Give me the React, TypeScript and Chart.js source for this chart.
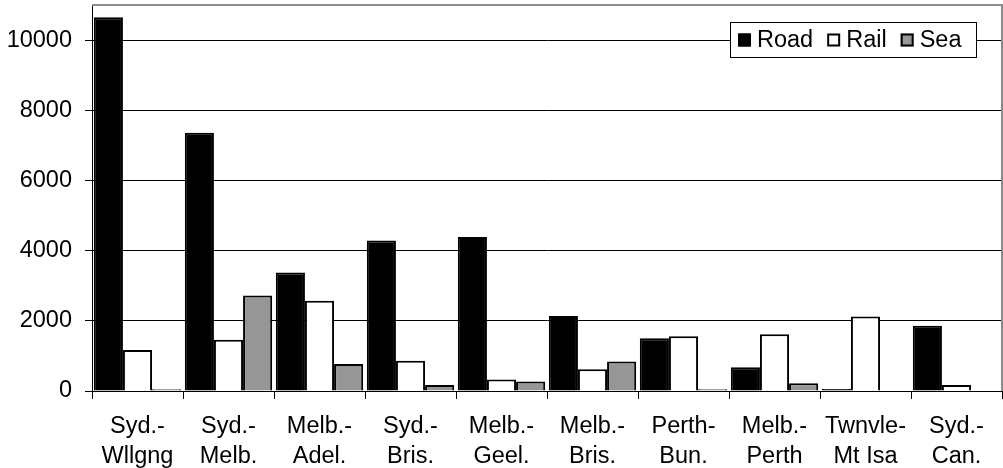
import React, { useEffect, useRef } from "react";
import { Chart, registerables } from "chart.js";

Chart.register(...registerables);

// Freight by corridor and mode
const corridors: string[][] = [
  ["Syd.-", "Wllgng"],
  ["Syd.-", "Melb."],
  ["Melb.-", "Adel."],
  ["Syd.-", "Bris."],
  ["Melb.-", "Geel."],
  ["Melb.-", "Bris."],
  ["Perth-", "Bun."],
  ["Melb.-", "Perth"],
  ["Twnvle-", "Mt Isa"],
  ["Syd.-", "Can."],
];

const road: number[] = [10650, 7360, 3380, 4290, 4390, 2140, 1500, 680, 60, 1860];
const rail: number[] = [1170, 1460, 2570, 860, 330, 620, 1560, 1620, 2120, 170];
const sea: number[] = [50, 2720, 770, 170, 270, 840, 50, 220, 0, 0];

const yTicks: number[] = [0, 2000, 4000, 6000, 8000, 10000];

const FONT = '"Liberation Sans", Arial, sans-serif';
const FONT_SIZE = 23.5;

const legendItems = [
  { label: "Road", fill: "#000000" },
  { label: "Rail", fill: "#ffffff" },
  { label: "Sea", fill: "#969696" },
];

// Grey frame on the top and right edges of the plot area
const framePlugin = {
  id: "plotFrame",
  afterDraw(chart: any) {
    const { ctx, chartArea } = chart;
    const { left, right, top, bottom } = chartArea;
    ctx.save();
    ctx.strokeStyle = "#8c8c8c";
    ctx.lineWidth = 2;
    ctx.beginPath();
    ctx.moveTo(left, top);
    ctx.lineTo(right, top);
    ctx.lineTo(right, bottom);
    ctx.stroke();
    ctx.restore();
  },
};

// Boxed legend floating inside the plot area, top right
const boxLegendPlugin = {
  id: "boxLegend",
  afterDraw(chart: any) {
    const { ctx, chartArea } = chart;
    const boxW = 247;
    const boxH = 36;
    const x0 = chartArea.right - 25 - boxW;
    const y0 = chartArea.top + 17;
    ctx.save();
    ctx.fillStyle = "#ffffff";
    ctx.fillRect(x0, y0, boxW, boxH);
    ctx.strokeStyle = "#000000";
    ctx.lineWidth = 1;
    ctx.strokeRect(x0 + 0.5, y0 + 0.5, boxW - 1, boxH - 1);

    ctx.font = `${FONT_SIZE}px ${FONT}`;
    ctx.textBaseline = "middle";
    ctx.textAlign = "left";
    const cy = y0 + boxH / 2;
    const sq = 13;
    let x = x0 + 8;
    legendItems.forEach((item) => {
      ctx.fillStyle = item.fill;
      ctx.fillRect(x, cy - sq / 2, sq, sq);
      ctx.strokeStyle = "#000000";
      ctx.lineWidth = 2;
      ctx.strokeRect(x + 1, cy - sq / 2 + 1, sq - 2, sq - 2);
      ctx.fillStyle = "#000000";
      ctx.fillText(item.label, x + sq + 6, cy + 1);
      x += sq + 6 + ctx.measureText(item.label).width + 14;
    });
    ctx.restore();
  },
};

export default function App() {
  const canvasRef = useRef<HTMLCanvasElement | null>(null);

  useEffect(() => {
    const canvas = canvasRef.current;
    if (!canvas) return;
    const chart = new Chart(canvas, {
      type: "bar",
      data: {
        labels: corridors,
        datasets: [
          { label: "Road", data: road, backgroundColor: "#000000", borderColor: "#000000", borderWidth: 2 },
          { label: "Rail", data: rail, backgroundColor: "#ffffff", borderColor: "#000000", borderWidth: 2 },
          { label: "Sea", data: sea, backgroundColor: "#969696", borderColor: "#000000", borderWidth: 2 },
        ],
      },
      options: {
        responsive: false,
        animation: false,
        maintainAspectRatio: false,
        layout: { padding: { top: 5, right: 1, left: 0, bottom: 0 } },
        datasets: {
          bar: { categoryPercentage: 0.96, barPercentage: 1.0 },
        },
        plugins: {
          legend: { display: false },
          tooltip: { enabled: false },
        },
        scales: {
          x: {
            type: "category",
            offset: true,
            grid: {
              offset: true,
              drawOnChartArea: false,
              drawTicks: true,
              tickLength: 8,
              color: "#000000",
            },
            border: { color: "#000000", width: 1 },
            ticks: {
              color: "#000000",
              font: { family: FONT, size: FONT_SIZE, lineHeight: 1.277 },
              padding: 13,
              maxRotation: 0,
              autoSkip: false,
            },
            afterFit(scale: any) {
              scale.height = 77;
              scale.paddingLeft = 0;
              scale.paddingRight = 0;
            },
          },
          y: {
            min: 0,
            max: 11000,
            grid: { color: "#000000", tickLength: 7, drawTicks: true },
            border: { color: "#000000", width: 1 },
            ticks: {
              stepSize: 2000,
              color: "#000000",
              font: { family: FONT, size: FONT_SIZE },
              padding: 13,
              callback: (value: any) => String(value),
            },
            afterBuildTicks(scale: any) {
              scale.ticks = yTicks.map((v) => ({ value: v }));
            },
            afterFit(scale: any) {
              scale.width = 92;
              scale.paddingTop = 0;
              scale.paddingBottom = 0;
            },
          },
        },
      },
      plugins: [framePlugin, boxLegendPlugin],
    });
    return () => chart.destroy();
  }, []);

  return (
    <div style={{ position: "absolute", left: 0, top: 0, width: 1003, height: 468, background: "#ffffff" }}>
      <canvas ref={canvasRef} width={1003} height={468} style={{ display: "block" }} />
    </div>
  );
}
